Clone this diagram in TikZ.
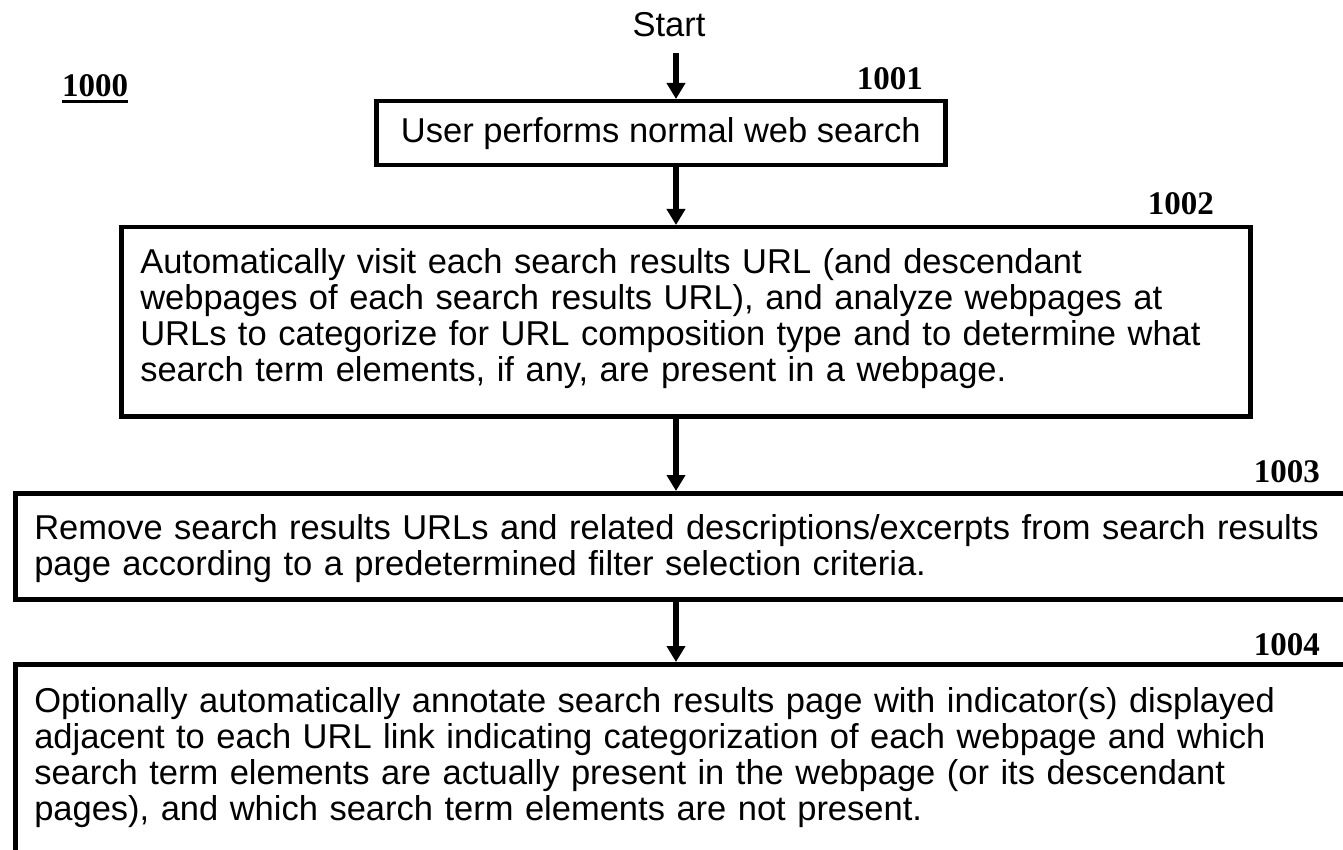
\documentclass[tikz,border=0pt]{standalone}
\usepackage{fontspec}
\setmainfont{Liberation Sans}
\newfontfamily\numfont{Liberation Serif}
\usetikzlibrary{arrows.meta}

\begin{document}
\begin{tikzpicture}[x=1pt,y=-1pt,
  bodyfont/.style={font=\fontsize{34.5}{36}\selectfont},
  stepbox/.style={draw, line width=4.5pt, rectangle, inner ysep=0pt,
    bodyfont, anchor=north west},
  leftbox/.style={stepbox, align=left, inner xsep=19pt},
  flow/.style={line width=6pt, -{Triangle[width=18pt,length=16pt]}},
  ref/.style={font=\numfont\bfseries\fontsize{33}{33}\selectfont,
    inner sep=0pt, anchor=base east},
]
\useasboundingbox (0,0) rectangle (1343,850);

% vertical axis shared by all connectors
\coordinate (axis) at (676,0);

\node[bodyfont, inner sep=0pt, anchor=base] (start) at (669,37) {Start};

% figure number
\node[ref, anchor=base west] (r0) at (62,97) {1000};
\draw[line width=3pt] ([yshift=-5pt]r0.base west) -- ([yshift=-5pt]r0.base east);

% process steps
\node[stepbox, minimum width=569pt, text height=41pt, text depth=23pt]
  (s1) at (374,99) {User performs normal web search};

\node[leftbox, text width=1091pt, text height=46pt, text depth=143pt]
  (s2) at (119,225) {Automatically visit each search results URL (and descendant\\
  webpages of each search results URL), and analyze webpages at\\
  URLs to categorize for URL composition type and to determine what\\
  search term elements, if any, are present in a webpage.};

\node[leftbox, text width=1319pt, text height=46pt, text depth=60pt]
  (s3) at (13,491) {Remove search results URLs and related descriptions/excerpts from search results\\
  page according to a predetermined filter selection criteria.};

\node[leftbox, text width=1319pt, text height=48pt, text depth=220pt]
  (s4) at (13,662) {Optionally automatically annotate search results page with indicator(s) displayed\\
  adjacent to each URL link indicating categorization of each webpage and which\\
  search term elements are actually present in the webpage (or its descendant\\
  pages), and which search term elements are not present.};

% step reference numerals
\node[ref] (r1) at (923,90) {1001};
\node[ref] (r2) at (1214,215) {1002};
\node[ref] (r3) at (1320,482) {1003};
\node[ref] (r4) at (1320,655) {1004};

% connectors
\draw[flow, shorten <=16pt] (start.base -| axis) -- (s1.north -| axis);
\draw[flow] (s1.south -| axis) -- (s2.north -| axis);
\draw[flow] (s2.south -| axis) -- (s3.north -| axis);
\draw[flow] (s3.south -| axis) -- (s4.north -| axis);
\end{tikzpicture}
\end{document}
